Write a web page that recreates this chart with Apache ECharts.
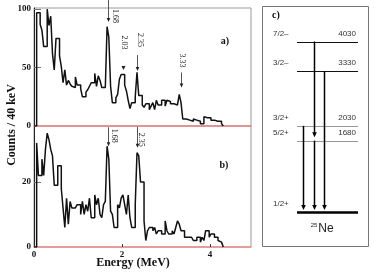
<!DOCTYPE html>
<html><head><meta charset="utf-8">
<script src="https://cdn.jsdelivr.net/npm/echarts@6/dist/echarts.min.js"></script>
<style>html,body{margin:0;padding:0;background:#fff}#c{width:374px;height:276px}</style>
</head><body><div id="c"></div>
<script>
// ---------- data ----------
const binStart = 0.06;   // MeV, lower edge of first bin
const binWidth = 0.04;   // MeV
const countsA = [97,97,87,82,68,68,100,86,94,62, 48,75,75,60,51,37,48,35,39,36,
  34,33,42,35,35,32,25,25,29,31, 34,37,37,45,34,43,39,33,33,33,
  85,76,34,20,20,24,27,40,44,44, 35,30,22,15,20,20,25,46,26,26,
  18,16,19,19,14,17,20,14,22,18, 18,22,22,17,22,21,19,19,18,18,
  18,27,20,6,6,5,5,4,4,6, 5,6,4,2,2,8,7,7,7,5, 5,5,4,4,4,2];
const countsB = [32,22,22,27,22,30,35,33,30,28, 19,19,25,25,18,12,6,15,7,14,
  12,12,12,13,13,10,14,10,13,11, 15,9,9,16,13,15,10,9,13,14,
  31,27,11,10,6,6,13,12,15,16, 13,10,16,9,6,6,13,29,28,20,
  20,8,2,5,6,6,5,6,4,5, 5,4,4,8,5,4,4,5,4,6,
  8,7,5,5,3,3,3,3,3,2, 2,3,3,1.5,3,2,5,5,3,4, 4,3,3,2,1.5,1.5];
const yTicksA = [0, 50, 100];
const yTicksB = [0, 20];
const xTicks = [0, 2, 4];
const xLabels = ['0', '2', '4'];
const peakEnergiesA = [1.68, 2.03, 2.35, 3.33];
const peakTipsA = [89, 48, 47, 33];
const peakLabelsA = ['1.68', '2.03', '2.35', '3.33'];
const peakEnergiesB = [1.68, 2.35];
const peakTipsB = [31, 30.5];
const peakLabelsB = ['1.68', '2.35'];
const levelEnergies = [4030, 3330, 2030, 1680, 0];
const levelSpins = ['7/2\u2013', '3/2\u2013', '3/2+', '5/2+', '1/2+'];
const levelTexts = ['4030', '3330', '2030', '1680', ''];
const transFrom = [4030, 1680, 2030, 3330];
const transTo = [1680, 0, 0, 0];

// ---------- layout / style (not data) ----------
const annotStyleA = [
  {len: 22, dx: 6.5, dy: -6, marker: false},
  {len: 0, dx: 0.5, dy: -27.5, marker: true},
  {len: 16, dx: 3, dy: -31, marker: false},
  {len: 15, dx: 0.5, dy: -27, marker: false}
];
const annotStyleB = [
  {len: 19, dx: 6, dy: -10.5, marker: false},
  {len: 21, dx: 3.5, dy: -8, marker: false}
];
const levelStroke = ['#111', '#111', '#999', '#999', '#000'];
const levelWidth = [1, 1, 1, 1, 2.5];
const transXFrac = [0.28, 0.28, 0.10, 0.44];

function histPoints(counts) {
  const pts = [[0, 0]];
  counts.forEach((c, i) => pts.push([binStart + i * binWidth, c]));
  pts.push([binStart + counts.length * binWidth, 0]);
  return pts;
}

const serif = '"Liberation Serif", "DejaVu Serif", serif';
const sans = '"Liberation Sans", Arial, sans-serif';
const pink = '#ef8a8a';

function annotSeries(gridIdx, energies, tips, labels, styles) {
  return {
    type: 'custom', xAxisIndex: gridIdx, yAxisIndex: gridIdx, clip: false, silent: true,
    data: energies.map((e, i) => [e, tips[i], i]),
    renderItem: function (params, api) {
      const i = api.value(2);
      const st = styles[i];
      const p = api.coord([api.value(0), api.value(1)]);
      const x = Math.round(p[0]) + 0.5, y = p[1];
      const children = [];
      if (st.marker) {
        children.push({type: 'polygon', shape: {points: [[x - 2, y - 4], [x + 2, y - 4], [x, y]]}, style: {fill: '#222'}});
      } else {
        children.push({type: 'line', shape: {x1: x, y1: y - st.len, x2: x, y2: y - 3}, style: {stroke: '#555', lineWidth: 1}});
        children.push({type: 'polygon', shape: {points: [[x - 1.8, y - 4], [x + 1.8, y - 4], [x, y]]}, style: {fill: '#222'}});
      }
      children.push({type: 'text', x: x + st.dx, y: y + st.dy, rotation: -Math.PI / 2,
        style: {text: labels[i], x: 0, y: 0, align: 'center', verticalAlign: 'middle',
          textAlign: 'center', textVerticalAlign: 'middle',
          fontSize: 8, fontFamily: serif, fill: '#222'}});
      return {type: 'group', children: children};
    }
  };
}

const chart = echarts.init(document.getElementById('c'), null, {renderer: 'canvas'});

const yAxisCommon = {
  type: 'value',
  axisLine: {show: true, lineStyle: {color: '#222', width: 1}},
  splitLine: {show: false}
};

const option = {
  animation: false,
  backgroundColor: '#fff',
  grid: [
    {left: 34, top: 8, width: 217, height: 118, show: true, borderColor: '#999', borderWidth: 1, containLabel: false},
    {left: 34, top: 126, width: 217, height: 121, show: true, borderColor: '#999', borderWidth: 1, containLabel: false},
    {left: 297, top: 41.5, width: 61, height: 170, show: false}
  ],
  xAxis: [
    {gridIndex: 0, type: 'value', min: 0, max: 4.93,
      axisLine: {show: true, onZero: false, lineStyle: {color: pink, width: 1.5}},
      axisTick: {show: false}, axisLabel: {show: false}, splitLine: {show: false}},
    {gridIndex: 1, type: 'value', min: 0, max: 4.93,
      axisLine: {show: true, onZero: false, lineStyle: {color: pink, width: 1.5}},
      axisTick: {show: true, inside: true, length: 3, lineStyle: {color: '#333'}, customValues: xTicks.slice(1)},
      axisLabel: {show: true, customValues: xTicks, formatter: v => xLabels[xTicks.indexOf(v)] ?? '',
        fontSize: 9, fontWeight: 'bold', fontFamily: serif, color: '#111', margin: 3},
      splitLine: {show: false}},
    {gridIndex: 2, type: 'value', min: 0, max: 1, show: false}
  ],
  yAxis: [
    Object.assign({}, yAxisCommon, {gridIndex: 0, min: 0, max: 101,
      axisTick: {show: true, inside: true, length: 7, lineStyle: {color: '#777'}, customValues: yTicksA.slice(1)},
      axisLabel: {customValues: yTicksA, fontSize: 9, fontWeight: 'bold', fontFamily: serif, color: '#111', margin: 3}}),
    Object.assign({}, yAxisCommon, {gridIndex: 1, min: 0, max: 37.2,
      axisTick: {show: true, inside: true, length: 7, lineStyle: {color: '#777'}, customValues: yTicksB.slice(1)},
      axisLabel: {customValues: yTicksB, fontSize: 9, fontWeight: 'bold', fontFamily: serif, color: '#111', margin: 3}}),
    {gridIndex: 2, type: 'value', min: 0, max: 4030, show: false}
  ],
  series: [
    {type: 'line', xAxisIndex: 0, yAxisIndex: 0, step: 'end', data: histPoints(countsA),
      showSymbol: false, symbol: 'none', lineStyle: {color: '#111', width: 1.5}, silent: true},
    {type: 'line', xAxisIndex: 1, yAxisIndex: 1, step: 'end', data: histPoints(countsB),
      showSymbol: false, symbol: 'none', lineStyle: {color: '#111', width: 1.5}, silent: true},
    annotSeries(0, peakEnergiesA, peakTipsA, peakLabelsA, annotStyleA),
    annotSeries(1, peakEnergiesB, peakTipsB, peakLabelsB, annotStyleB),
    {
      type: 'custom', xAxisIndex: 2, yAxisIndex: 2, clip: false, silent: true,
      data: levelEnergies.map((e, i) => [e, i]),
      renderItem: function (params, api) {
        const i = api.value(1);
        const e = api.value(0);
        const p0 = api.coord([0, e]), p1 = api.coord([1, e]);
        const y = Math.round(p0[1]) + 0.5;
        return {type: 'group', children: [
          {type: 'line', shape: {x1: p0[0], y1: y, x2: p1[0], y2: y}, style: {stroke: levelStroke[i], lineWidth: levelWidth[i]}},
          {type: 'text', style: {text: levelSpins[i], x: p0[0] - 24, y: y - 8.5, align: 'left', verticalAlign: 'middle',
            textAlign: 'left', textVerticalAlign: 'middle', fontSize: 8, fontFamily: sans, fill: '#333'}},
          {type: 'text', style: {text: levelTexts[i], x: p1[0] - 2, y: y - 8.5, align: 'right', verticalAlign: 'middle',
            textAlign: 'right', textVerticalAlign: 'middle', fontSize: 8, fontFamily: sans, fill: '#333'}}
        ]};
      }
    },
    {
      type: 'custom', xAxisIndex: 2, yAxisIndex: 2, clip: false, silent: true,
      data: transFrom.map((e, i) => [e, transTo[i], i]),
      renderItem: function (params, api) {
        const i = api.value(2);
        const pa = api.coord([transXFrac[i], api.value(0)]);
        const pb = api.coord([transXFrac[i], api.value(1)]);
        const x = Math.round(pa[0]) + 0.5;
        const yTip = pb[1] - (api.value(1) === 0 ? 1.5 : 3.5);
        return {type: 'group', children: [
          {type: 'line', shape: {x1: x, y1: pa[1], x2: x, y2: yTip - 3}, style: {stroke: '#000', lineWidth: 1.5}},
          {type: 'polygon', shape: {points: [[x - 2.3, yTip - 5], [x + 2.3, yTip - 5], [x, yTip]]}, style: {fill: '#000'}}
        ]};
      }
    }
  ],
  graphic: [
    {type: 'text', x: 12, y: 125, rotation: Math.PI / 2,
      style: {text: 'Counts / 40 keV', x: 0, y: 0, align: 'center', verticalAlign: 'middle', textAlign: 'center', textVerticalAlign: 'middle',
        fontSize: 12, fontWeight: 'bold', fontFamily: serif, fill: '#111'}},
    {type: 'text', x: 133, y: 263,
      style: {text: 'Energy (MeV)', x: 0, y: 0, align: 'center', verticalAlign: 'middle', textAlign: 'center', textVerticalAlign: 'middle',
        fontSize: 12, fontWeight: 'bold', fontFamily: serif, fill: '#111'}},
    {type: 'text', x: 225, y: 41,
      style: {text: 'a)', x: 0, y: 0, align: 'center', verticalAlign: 'middle', textAlign: 'center', textVerticalAlign: 'middle',
        fontSize: 10, fontWeight: 'bold', fontFamily: serif, fill: '#111'}},
    {type: 'text', x: 224, y: 165,
      style: {text: 'b)', x: 0, y: 0, align: 'center', verticalAlign: 'middle', textAlign: 'center', textVerticalAlign: 'middle',
        fontSize: 10, fontWeight: 'bold', fontFamily: serif, fill: '#111'}},
    {type: 'rect', shape: {x: 262.5, y: 6.5, width: 106, height: 240}, style: {fill: 'none', stroke: '#777', lineWidth: 1}},
    {type: 'text', x: 276, y: 15,
      style: {text: 'c)', x: 0, y: 0, align: 'center', verticalAlign: 'middle', textAlign: 'center', textVerticalAlign: 'middle',
        fontSize: 10, fontWeight: 'bold', fontFamily: serif, fill: '#111'}},
    {type: 'text', x: 314, y: 225,
      style: {text: '25', x: 0, y: 0, align: 'center', verticalAlign: 'middle', textAlign: 'center', textVerticalAlign: 'middle',
        fontSize: 6, fontFamily: sans, fill: '#222'}},
    {type: 'text', x: 326, y: 229,
      style: {text: 'Ne', x: 0, y: 0, align: 'center', verticalAlign: 'middle', textAlign: 'center', textVerticalAlign: 'middle',
        fontSize: 12, fontFamily: sans, fill: '#222'}}
  ]
};
chart.setOption(option);
</script>
</body></html>
